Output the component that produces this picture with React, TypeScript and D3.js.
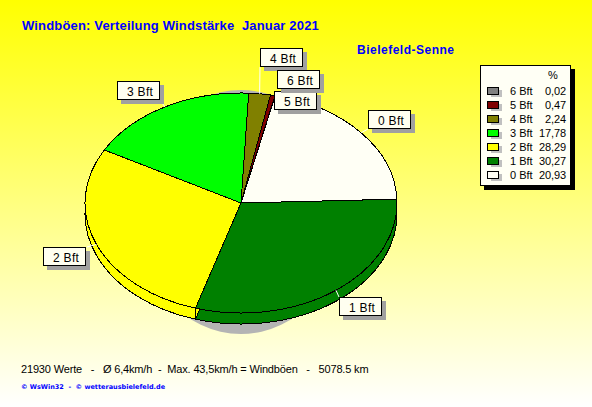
import * as d3 from 'd3';

const categories = ['0 Bft', '1 Bft', '2 Bft', '3 Bft', '4 Bft', '5 Bft', '6 Bft'];
const shares = [20.93, 30.27, 28.29, 17.78, 2.24, 0.47, 0.02];
const colors = ['#fffff5', '#008000', '#ffff00', '#00ff00', '#808000', '#800000', '#808080'];

const title = 'Windböen: Verteilung Windstärke  Januar 2021';
const station = 'Bielefeld-Senne';
const summary = '21930 Werte   -   Ø 6,4km/h  -  Max. 43,5km/h = Windböen   -   5078.5 km';
const credits = '© WsWin32  -  © wetterausbielefeld.de';

// callout boxes: left/top of each box, and which point of the box the leader goes to
const callouts: Record<string, { x: number; y: number; ax: number; ay: number }> = {
  '0 Bft': { x: 368, y: 110, ax: 368, ay: 129 },
  '1 Bft': { x: 339, y: 297, ax: 339, ay: 297 },
  '2 Bft': { x: 43, y: 247, ax: 87, ay: 247 },
  '3 Bft': { x: 117, y: 81, ax: 160, ay: 100 },
  '4 Bft': { x: 260, y: 48, ax: 260, ay: 67 },
  '5 Bft': { x: 274, y: 91, ax: 274, ay: 110 },
  '6 Bft': { x: 277, y: 70, ax: 277, ay: 89 },
};

const width = 592;
const height = 407;
const cx = 241;
const cy = 203;
const rx = 156;
const ry = 110;
const depth = 11;
const arial = '"Liberation Sans", Arial, sans-serif';

// the 0 Bft / 1 Bft edge sits a little above east, slices run clockwise from there
const total = d3.sum(shares);
const start = ((90 - 2) * Math.PI) / 180 - (shares[0] / total) * 2 * Math.PI;
const slices = d3
  .pie<number>()
  .sort(null)
  .startAngle(start)
  .endAngle(start + 2 * Math.PI)(shares);
const arc = d3.arc<d3.PieArcDatum<number>>().innerRadius(0).outerRadius(rx);

const pointAt = (a: number) => [cx + rx * Math.sin(a), cy - ry * Math.cos(a)];
const percent = (v: number) => d3.format('.2f')(v).replace('.', ',');

const legendRow = d3
  .scalePoint<string>()
  .domain([...categories].reverse())
  .range([91, 175]);

function PieLayer({ dy }: { dy: number }) {
  return (
    <g transform={`translate(${cx},${cy + dy}) scale(1,${ry / rx})`} shapeRendering="crispEdges">
      {slices.map((s, i) => (
        <path
          key={categories[i]}
          d={arc(s) ?? ''}
          fill={colors[i]}
          stroke="#000"
          strokeWidth={1}
          vectorEffect="non-scaling-stroke"
        />
      ))}
    </g>
  );
}

export default function App() {
  const wall = pointAt(slices[1].endAngle);
  return (
    <svg
      width={width}
      height={height}
      viewBox={`0 0 ${width} ${height}`}
      style={{ position: 'absolute', left: 0, top: 0, display: 'block' }}
      fontFamily={arial}
    >
      <defs>
        <linearGradient id="bg" x1="0" y1="0" x2="0" y2="1">
          <stop offset="0" stopColor="#ffff00" />
          <stop offset="1" stopColor="#ffffff" />
        </linearGradient>
      </defs>
      <rect width={width} height={height} fill="url(#bg)" />

      <text x={22} y={30} fontSize={13} fontWeight="bold" fill="#0000ff" letterSpacing={0.17} style={{ whiteSpace: 'pre' }}>
        {title}
      </text>
      <text x={357} y={54} fontSize={12} fontWeight="bold" fill="#0000ff" letterSpacing={0.5}>
        {station}
      </text>

      {/* shadow, side wall, top */}
      <ellipse cx={cx} cy={212} rx={105} ry={122} fill="#b4b4b4" />
      <PieLayer dy={depth} />
      <PieLayer dy={0} />
      <line x1={wall[0]} y1={wall[1]} x2={wall[0]} y2={wall[1] + depth} stroke="#000" shapeRendering="crispEdges" />

      {/* leaders, the two thin slices hide theirs behind the boxes */}
      {slices.map((s, i) => {
        if (shares[i] < 1) return null;
        const c = callouts[categories[i]];
        const [px, py] = pointAt((s.startAngle + s.endAngle) / 2);
        return <line key={i} x1={px} y1={py} x2={c.ax} y2={c.ay} stroke="#fff" />;
      })}

      {/* callouts */}
      {categories.map((cat) => {
        const c = callouts[cat];
        return (
          <g key={cat} transform={`translate(${c.x},${c.y})`} shapeRendering="crispEdges">
            <rect x={4} y={4} width={43} height={19} fill="#a0a0a0" />
            <rect x={0.5} y={0.5} width={42} height={18} fill="#fffff0" stroke="#000" />
            <text x={10} y={15} fontSize={12} letterSpacing={0.3} fill="#000">
              {cat}
            </text>
          </g>
        );
      })}

      {/* legend */}
      <rect x={484} y={69} width={91} height={121} fill="#000" />
      <rect x={480.5} y={65.5} width={90} height={120} fill="#fffff5" stroke="#000" shapeRendering="crispEdges" />
      <text x={553} y={79} fontSize={11} textAnchor="middle" fill="#000">
        %
      </text>
      {categories.map((cat, i) => {
        const y = legendRow(cat) ?? 0;
        return (
          <g key={cat}>
            <rect x={491} y={y - 1} width={11} height={7} fill="#c0c0c0" shapeRendering="crispEdges" />
            <rect x={487.5} y={y - 3.5} width={11} height={7} fill={colors[i]} stroke="#000" shapeRendering="crispEdges" />
            <text x={510} y={y + 4} fontSize={11} fill="#000">
              {cat}
            </text>
            <text x={566} y={y + 4} fontSize={11} textAnchor="end" letterSpacing={-0.1} fill="#000">
              {percent(shares[i])}
            </text>
          </g>
        );
      })}

      <text x={21} y={373} fontSize={11} letterSpacing={-0.16} fill="#000" style={{ whiteSpace: 'pre' }}>
        {summary}
      </text>
      <text x={21} y={389} fontSize={6.5} fontWeight="bold" fontFamily='"DejaVu Sans", Verdana, sans-serif' fill="#0000ff" style={{ whiteSpace: 'pre' }}>
        {credits}
      </text>
    </svg>
  );
}
